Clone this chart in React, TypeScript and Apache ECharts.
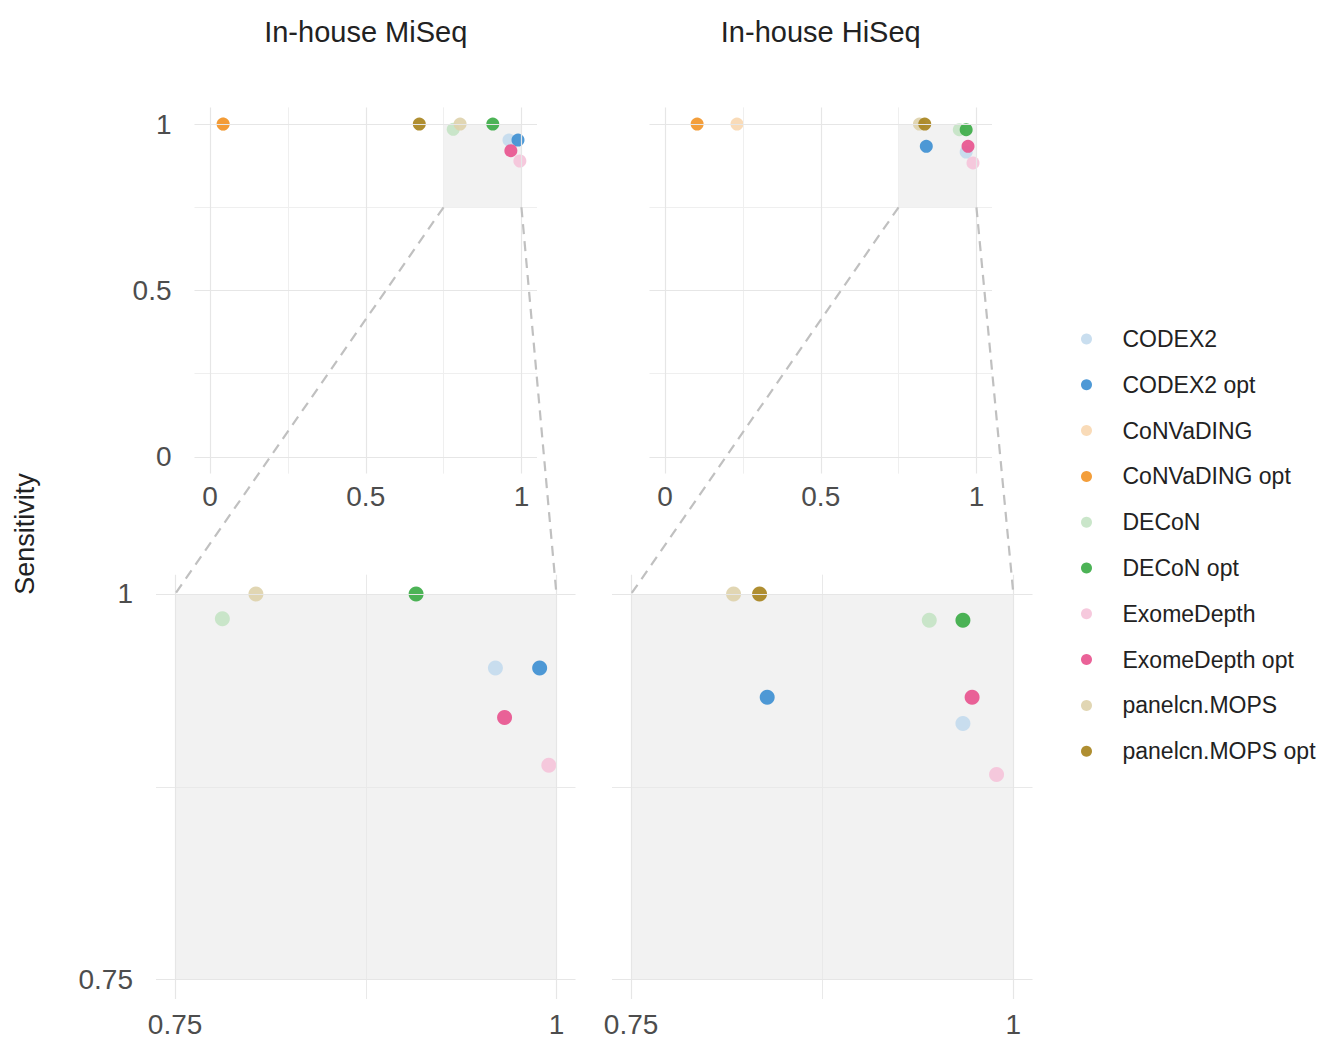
import React, { useEffect, useRef } from "react";
import * as echarts from "echarts";

const methods = [
  "CODEX2",
  "CODEX2 opt",
  "CoNVaDING",
  "CoNVaDING opt",
  "DECoN",
  "DECoN opt",
  "ExomeDepth",
  "ExomeDepth opt",
  "panelcn.MOPS",
  "panelcn.MOPS opt",
];
const methodColors = [
  "#c4dbee",
  "#3f90d3",
  "#f8d8b2",
  "#f2962a",
  "#c5e4c5",
  "#3dad48",
  "#f5c4da",
  "#e8558f",
  "#ded2ac",
  "#a8841f",
];

// In-house MiSeq (x = specificity, y = sensitivity)
const miseqX = [0.96, 0.989, 0.042, 0.042, 0.781, 0.908, 0.995, 0.966, 0.803, 0.672];
const miseqY = [0.952, 0.952, 1, 1, 0.984, 1, 0.889, 0.92, 1, 1];
// In-house HiSeq
const hiseqX = [0.967, 0.839, 0.231, 0.103, 0.945, 0.967, 0.989, 0.973, 0.817, 0.834];
const hiseqY = [0.916, 0.933, 1, 1, 0.983, 0.983, 0.883, 0.933, 1, 1];

const panelTitles = ["In-house MiSeq", "In-house HiSeq"];
const yTitle = "Sensitivity";

const overviewRange = [-0.05, 1.05];
const overviewLabels = [0, 0.5, 1];
const overviewMajor = [0, 0.5, 1];
const overviewMinor = [0.25, 0.75];
const zoomRange = [0.7375, 1.0125];
const zoomLabels = [0.75, 1];
const zoomMajor = [0.75, 1];
const zoomMinor = [0.875];
const zoomBox = [0.75, 1];

const FONT = "Liberation Sans, Arial, sans-serif";
const LABEL_COLOR = "#4d4d4d";
const MAJOR = "#e6e6e6";
const MINOR = "#efefef";
const MINOR_ZOOM = "#e9e9e9";
const ZOOM_BG = "#f2f2f2";

const grids = [
  { left: 194.5, top: 107.4, width: 342.5, height: 366.2 },
  { left: 649.5, top: 107.4, width: 342.5, height: 366.2 },
  { left: 156, top: 574.7, width: 419.5, height: 424.6 },
  { left: 612, top: 574.7, width: 420.5, height: 424.6 },
];

function fmt(v: number) {
  return String(Math.round(v * 1000) / 1000);
}

function buildOption() {
  const xAxis: any[] = [];
  const yAxis: any[] = [];
  const series: any[] = [];
  grids.forEach((g, i) => {
    const isZoom = i >= 2;
    const range = isZoom ? zoomRange : overviewRange;
    const labels = isZoom ? zoomLabels : overviewLabels;
    const showY = i % 2 === 0;
    xAxis.push({
      type: "value",
      gridIndex: i,
      min: range[0],
      max: range[1],
      axisLine: { show: false },
      axisTick: { show: false },
      splitLine: { show: false },
      axisLabel: {
        customValues: labels,
        formatter: fmt,
        color: LABEL_COLOR,
        fontSize: 28,
        fontFamily: FONT,
        margin: isZoom ? 11 : 9,
      },
    });
    yAxis.push({
      type: "value",
      gridIndex: i,
      min: range[0],
      max: range[1],
      axisLine: { show: false },
      axisTick: { show: false },
      splitLine: { show: false },
      axisLabel: {
        show: showY,
        customValues: labels,
        formatter: fmt,
        color: LABEL_COLOR,
        fontSize: 28,
        fontFamily: FONT,
        margin: 23,
      },
    });
    // zoom rectangle / zoom panel background
    series.push({
      type: "scatter",
      xAxisIndex: i,
      yAxisIndex: i,
      data: [],
      z: 1,
      silent: true,
      markArea: {
        silent: true,
        itemStyle: { color: ZOOM_BG },
        data: [
          [
            { xAxis: zoomBox[0], yAxis: zoomBox[0] },
            { xAxis: zoomBox[1], yAxis: zoomBox[1] },
          ],
        ],
      },
    });
    const major = isZoom ? zoomMajor : overviewMajor;
    const minor = isZoom ? zoomMinor : overviewMinor;
    const mkLines = (vals: number[], color: string, width: number) => ({
      type: "scatter",
      xAxisIndex: i,
      yAxisIndex: i,
      data: [],
      z: 2,
      silent: true,
      markLine: {
        silent: true,
        symbol: "none",
        precision: 6,
        label: { show: false },
        lineStyle: { color, type: "solid", width },
        data: [
          ...vals.map((v) => ({ xAxis: v })),
          ...vals.map((v) => ({ yAxis: v })),
        ],
      },
    });
    series.push(mkLines(minor, isZoom ? MINOR_ZOOM : MINOR, 1));
    series.push(mkLines(major, MAJOR, 1.2));
    const xs = i % 2 === 0 ? miseqX : hiseqX;
    const ys = i % 2 === 0 ? miseqY : hiseqY;
    methods.forEach((m, k) => {
      series.push({
        type: "scatter",
        name: m,
        xAxisIndex: i,
        yAxisIndex: i,
        symbol: "circle",
        symbolSize: isZoom ? 15 : 13,
        z: 3,
        itemStyle: { color: methodColors[k], opacity: 0.92 },
        data: [[xs[k], ys[k]]],
      });
    });
  });

  return {
    animation: false,
    backgroundColor: "#ffffff",
    grid: grids.map((g) => ({ ...g, containLabel: false })),
    xAxis,
    yAxis,
    legend: {
      orient: "vertical",
      left: 1076,
      top: 321,
      data: methods,
      icon: "circle",
      itemWidth: 62,
      itemHeight: 11,
      itemGap: 19.8,
      textStyle: {
        fontSize: 23,
        fontFamily: FONT,
        color: "#222222",
        lineHeight: 26,
        padding: [0, 0, 0, 0],
      },
      selectedMode: false,
    },
    series,
  };
}

export default function App() {
  const ref = useRef<HTMLDivElement>(null);
  useEffect(() => {
    if (!ref.current) return;
    const chart = echarts.init(ref.current, null, { renderer: "svg" });
    chart.setOption(buildOption() as any);

    const p = (gi: number, v: number[]) =>
      chart.convertToPixel({ gridIndex: gi } as any, v) as number[];
    const graphics: any[] = [];
    [0, 1].forEach((side) => {
      const a1 = p(side, [zoomBox[0], zoomBox[0]]);
      const a2 = p(side + 2, [zoomBox[0], zoomBox[1]]);
      const b1 = p(side, [zoomBox[1], zoomBox[0]]);
      const b2 = p(side + 2, [zoomBox[1], zoomBox[1]]);
      [
        [a1, a2],
        [b1, b2],
      ].forEach(([s, e]) => {
        graphics.push({
          type: "line",
          z: 5,
          silent: true,
          shape: { x1: s[0], y1: s[1], x2: e[0], y2: e[1] },
          style: { stroke: "#c0c0c0", lineWidth: 2.2, lineDash: [10, 7] },
        });
      });
      const c = p(side, [0.5, 1]);
      graphics.push({
        type: "text",
        z: 5,
        x: c[0],
        y: 32,
        style: {
          text: panelTitles[side],
          align: "center",
          verticalAlign: "middle",
          fontSize: 29,
          fontFamily: FONT,
          fill: "#222222",
        },
      });
    });
    graphics.push({
      type: "text",
      z: 5,
      x: 25,
      y: 534,
      rotation: Math.PI / 2,
      style: {
        text: yTitle,
        align: "center",
        verticalAlign: "middle",
        fontSize: 27,
        fontFamily: FONT,
        fill: "#222222",
      },
    });
    chart.setOption({ graphic: graphics } as any);
    return () => chart.dispose();
  }, []);
  return (
    <div
      ref={ref}
      style={{ position: "absolute", left: 0, top: 0, width: 1321, height: 1038 }}
    />
  );
}
